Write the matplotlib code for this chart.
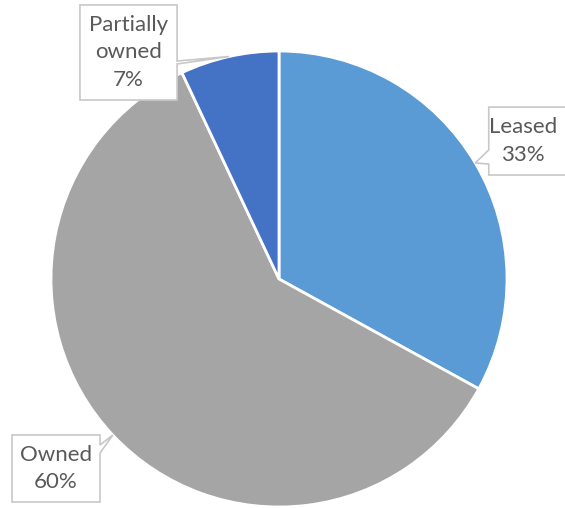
import numpy as np
import matplotlib.pyplot as plt
from matplotlib.patches import Polygon

labels = ["Leased", "Owned", "Partially\nowned"]
shares = [33, 60, 7]
colors = ["#5B9BD5", "#A5A5A5", "#4472C4"]

# callout boxes in pie units: x0, x1, y0, y1, side of the pointer, pointer base span
boxes = [(0.92, 1.26, 0.456, 0.754, "left", (0.504, 0.566)),
         (-1.171, -0.785, -0.978, -0.684, "right", (-0.763, -0.728)),
         (-0.873, -0.447, 0.785, 1.202, "right", (0.943, 0.956))]

plt.rcParams["font.family"] = ["Lato", "DejaVu Sans"]

fig = plt.figure(figsize=(5.65, 5.08), dpi=100)
ax = fig.add_axes([51 / 565, 1 / 508, 456 / 565, 456 / 508])

wedges, _ = ax.pie(shares, colors=colors, startangle=90, counterclock=False,
                   radius=1, wedgeprops=dict(edgecolor="white", linewidth=2))
ax.set_xlim(-1, 1)
ax.set_ylim(-1, 1)
ax.axis("off")


def callout(x0, x1, y0, y1, side, base, tip):
    tx, ty = tip
    ya, yb = base
    if side == "right":
        pts = [(x0, y0), (x1, y0), (x1, ya), (tx, ty), (x1, yb), (x1, y1), (x0, y1)]
    else:
        pts = [(x0, y0), (x1, y0), (x1, y1), (x0, y1), (x0, yb), (tx, ty), (x0, ya)]
    ax.add_patch(Polygon(pts, closed=True, facecolor="white", edgecolor="#C8C8C8",
                         linewidth=1.2, clip_on=False, zorder=5))


for w, lab, val, (x0, x1, y0, y1, side, base) in zip(wedges, labels, shares, boxes):
    mid = np.deg2rad((w.theta1 + w.theta2) / 2)
    tip = (np.cos(mid), np.sin(mid))
    callout(x0, x1, y0, y1, side, base, tip)
    ax.text((x0 + x1) / 2 - (0.02 if side == "left" else 0), (y0 + y1) / 2,
            f"{lab}\n{val}%", ha="center", va="center",
            fontsize=16, color="#595959", linespacing=1.45, zorder=6)

fig.savefig("out.png", dpi=100)
